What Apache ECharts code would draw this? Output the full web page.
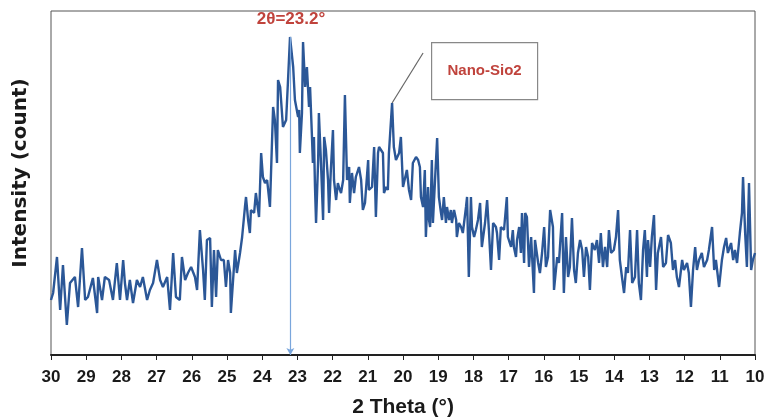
<!DOCTYPE html>
<html>
<head>
<meta charset="utf-8">
<script src="https://cdn.jsdelivr.net/npm/echarts@6/dist/echarts.min.js"></script>
<style>
  html, body { margin: 0; padding: 0; background: #fff; }
  #main { width: 766px; height: 420px; }
</style>
</head>
<body>
<div id="main"></div>
<script>
// 2theta (deg)
const theta = [
  30.00, 29.94, 29.83, 29.74, 29.66, 29.55, 29.46, 29.32, 29.23, 29.12, 29.03, 28.95, 28.81, 28.69, 28.66, 28.55,
  28.47, 28.35, 28.24, 28.13, 28.04, 27.95, 27.90, 27.84, 27.76, 27.67, 27.56, 27.47, 27.39, 27.27, 27.19, 27.10,
  26.99, 26.90, 26.82, 26.70, 26.62, 26.53, 26.45, 26.34, 26.28, 26.19, 26.11, 26.02, 25.91, 25.85, 25.77, 25.68,
  25.63, 25.57, 25.48, 25.43, 25.37, 25.31, 25.26, 25.17, 25.09, 25.03, 24.97, 24.91, 24.89, 24.77, 24.72, 24.63,
  24.57, 24.49, 24.46, 24.40, 24.35, 24.32, 24.23, 24.18, 24.09, 24.03, 23.98, 23.92, 23.86, 23.78, 23.69, 23.64,
  23.58, 23.55, 23.49, 23.41, 23.32, 23.27, 23.21, 23.12, 23.07, 22.98, 22.95, 22.93, 22.87, 22.84, 22.78, 22.73,
  22.67, 22.64, 22.59, 22.56, 22.53, 22.50, 22.47, 22.41, 22.39, 22.33, 22.27, 22.24, 22.19, 22.13, 22.10, 22.05,
  21.99, 21.96, 21.90, 21.85, 21.82, 21.76, 21.70, 21.65, 21.59, 21.53, 21.51, 21.45, 21.39, 21.34, 21.25, 21.19,
  21.14, 21.08, 20.99, 20.97, 20.88, 20.82, 20.77, 20.71, 20.68, 20.63, 20.57, 20.54, 20.48, 20.43, 20.40, 20.31,
  20.26, 20.20, 20.11, 20.06, 20.00, 19.89, 19.83, 19.77, 19.72, 19.63, 19.57, 19.52, 19.49, 19.43, 19.38, 19.35,
  19.29, 19.26, 19.23, 19.18, 19.15, 19.09, 19.03, 18.98, 18.92, 18.89, 18.84, 18.78, 18.75, 18.69, 18.64, 18.61,
  18.55, 18.49, 18.47, 18.41, 18.35, 18.30, 18.21, 18.18, 18.13, 18.07, 18.04, 17.98, 17.93, 17.87, 17.81, 17.76,
  17.67, 17.61, 17.56, 17.50, 17.44, 17.36, 17.33, 17.27, 17.22, 17.13, 17.05, 17.02, 16.93, 16.88, 16.85, 16.79,
  16.76, 16.70, 16.65, 16.62, 16.56, 16.53, 16.48, 16.42, 16.36, 16.28, 16.25, 16.16, 16.11, 16.05, 15.99, 15.94,
  15.88, 15.82, 15.74, 15.71, 15.62, 15.57, 15.48, 15.43, 15.37, 15.31, 15.26, 15.20, 15.14, 15.09, 15.03, 14.97,
  14.91, 14.86, 14.80, 14.74, 14.69, 14.63, 14.55, 14.49, 14.43, 14.38, 14.32, 14.26, 14.20, 14.15, 14.09, 14.01,
  13.95, 13.89, 13.84, 13.78, 13.72, 13.66, 13.61, 13.55, 13.49, 13.41, 13.35, 13.30, 13.24, 13.18, 13.13, 13.07,
  13.04, 12.98, 12.93, 12.87, 12.81, 12.76, 12.67, 12.61, 12.53, 12.47, 12.39, 12.33, 12.27, 12.22, 12.16, 12.07,
  12.02, 11.93, 11.88, 11.82, 11.76, 11.70, 11.65, 11.59, 11.51, 11.45, 11.36, 11.31, 11.22, 11.16, 11.11, 11.02,
  10.94, 10.88, 10.82, 10.77, 10.68, 10.62, 10.57, 10.51, 10.43, 10.37, 10.34, 10.28, 10.23, 10.17, 10.11, 10.06,
  10.00
]

// intensity (arbitrary counts), same order as theta
const intensity = [
  55, 62, 98, 45, 90, 30, 72, 78, 48, 107, 55, 58, 77, 42, 78, 55,
  78, 75, 55, 92, 55, 95, 72, 55, 75, 52, 75, 68, 78, 55, 65, 72,
  95, 75, 68, 78, 45, 102, 58, 55, 98, 75, 82, 88, 78, 65, 125, 85,
  55, 115, 117, 48, 105, 58, 105, 95, 95, 68, 95, 82, 42, 105, 82, 102,
  118, 148, 158, 135, 122, 145, 142, 162, 138, 202, 178, 172, 175, 148, 248, 235,
  192, 275, 268, 228, 235, 272, 318, 288, 255, 238, 245, 202, 242, 313, 268, 288,
  248, 268, 222, 192, 218, 168, 132, 195, 242, 192, 135, 218, 205, 175, 142, 185,
  225, 175, 155, 172, 168, 162, 175, 260, 175, 188, 152, 182, 162, 178, 188, 175,
  145, 152, 195, 165, 168, 208, 138, 202, 208, 208, 202, 162, 168, 165, 202, 252,
  208, 195, 202, 218, 168, 185, 165, 155, 192, 198, 195, 188, 158, 148, 185, 118,
  168, 135, 128, 195, 132, 175, 217, 158, 142, 135, 158, 132, 148, 135, 145, 132,
  145, 135, 118, 132, 128, 122, 148, 158, 78, 158, 128, 118, 125, 135, 152, 108,
  132, 155, 125, 85, 132, 128, 122, 95, 128, 125, 158, 118, 108, 125, 108, 98,
  115, 128, 102, 142, 92, 142, 138, 88, 118, 62, 115, 92, 82, 102, 128, 88,
  98, 145, 128, 65, 98, 92, 142, 62, 118, 78, 88, 137, 85, 72, 102, 115,
  105, 78, 108, 98, 65, 112, 105, 115, 92, 122, 88, 108, 88, 125, 102, 105,
  118, 145, 95, 78, 62, 88, 82, 125, 72, 78, 125, 72, 55, 105, 125, 78,
  115, 88, 118, 140, 65, 102, 118, 88, 92, 120, 112, 85, 95, 78, 68, 95,
  85, 92, 82, 48, 85, 108, 85, 95, 102, 88, 95, 105, 128, 85, 95, 68,
  95, 108, 117, 102, 112, 95, 105, 92, 122, 142, 178, 122, 88, 172, 85, 95,
  102
]

const xRange = [10, 30]          // axis range, 1 degree steps
const peakTheta = 23.2
const peakTop = 318
const peakLabel = '2θ=23.2°'
const boxLabel = 'Nano-Sio2'
const sioPeak = [20.31, 252]     // point the callout leader starts from
const leaderEnd = [19.43, 302]

const points = theta.map((t, i) => [t, intensity[i]])

const chart = echarts.init(document.getElementById('main'))

const tickFont = "'Liberation Sans', Arial, sans-serif"

const option = {
  animation: false,
  grid: {
    left: 51,
    right: 11,
    top: 11,
    bottom: 65,
    outerBoundsMode: 'none', // v6 would otherwise shrink the grid to fit the axis name
    show: true,
    borderColor: '#555',
    borderWidth: 1
  },
  xAxis: {
    type: 'value',
    inverse: true,
    min: xRange[0],
    max: xRange[1],
    interval: 1,
    name: '2 Theta (°)',
    nameLocation: 'middle',
    nameGap: 42,
    nameTextStyle: {
      fontFamily: tickFont,
      fontWeight: 'bold',
      fontSize: 21,
      color: '#1a1a1a'
    },
    axisLine: { show: true, lineStyle: { color: '#222', width: 2 } },
    axisTick: { show: true, length: 5, lineStyle: { color: '#222', width: 1 } },
    axisLabel: {
      margin: 14,
      fontFamily: tickFont,
      fontWeight: 'bold',
      fontSize: 17,
      color: '#1a1a1a'
    },
    splitLine: { show: false }
  },
  yAxis: {
    type: 'value',
    min: 0,
    max: 344,
    name: 'Intensity (count)',
    nameLocation: 'middle',
    nameGap: 20,
    nameRotate: 90,
    nameTextStyle: {
      fontFamily: "'DejaVu Sans', sans-serif",
      fontWeight: 'bold',
      fontSize: 20,
      color: '#1a1a1a',
      padding: [0, 0, 0, 20]
    },
    axisLine: { show: false },
    axisTick: { show: false },
    axisLabel: { show: false },
    splitLine: { show: false }
  },
  series: [
    {
      type: 'line',
      data: points,
      showSymbol: false,
      symbol: 'none',
      lineStyle: { color: '#2b5797', width: 2.4 },
      z: 3,
      markLine: {
        silent: true,
        animation: false,
        label: { show: false },
        data: [
          [
            { coord: [peakTheta, peakTop], symbol: 'none', lineStyle: { color: '#7aa6dc', width: 1.2, type: 'solid' } },
            { coord: [peakTheta, 0], symbol: 'arrow', symbolSize: [6, 7] }
          ],
          [
            { coord: sioPeak, symbol: 'none', lineStyle: { color: '#666', width: 1.2, type: 'solid' } },
            { coord: leaderEnd, symbol: 'none' }
          ]
        ]
      }
    }
  ],
  graphic: [
    {
      type: 'text',
      x: 291,
      y: 19,
      style: {
        text: peakLabel,
        font: "bold 17px 'Liberation Sans', Arial, sans-serif",
        fill: '#c0433c',
        align: 'center',
        verticalAlign: 'middle'
      }
    },
    {
      type: 'group',
      left: 431,
      top: 42,
      children: [
        {
          type: 'rect',
          shape: { x: 0, y: 0, width: 106, height: 57 },
          style: { fill: '#fff', stroke: '#888', lineWidth: 1.2 }
        },
        {
          type: 'text',
          x: 53,
          y: 28,
          style: {
            text: boxLabel,
            font: "bold 15px 'Liberation Sans', Arial, sans-serif",
            fill: '#c0433c',
            align: 'center',
            verticalAlign: 'middle'
          }
        }
      ]
    }
  ]
}

chart.setOption(option)
</script>
</body>
</html>
